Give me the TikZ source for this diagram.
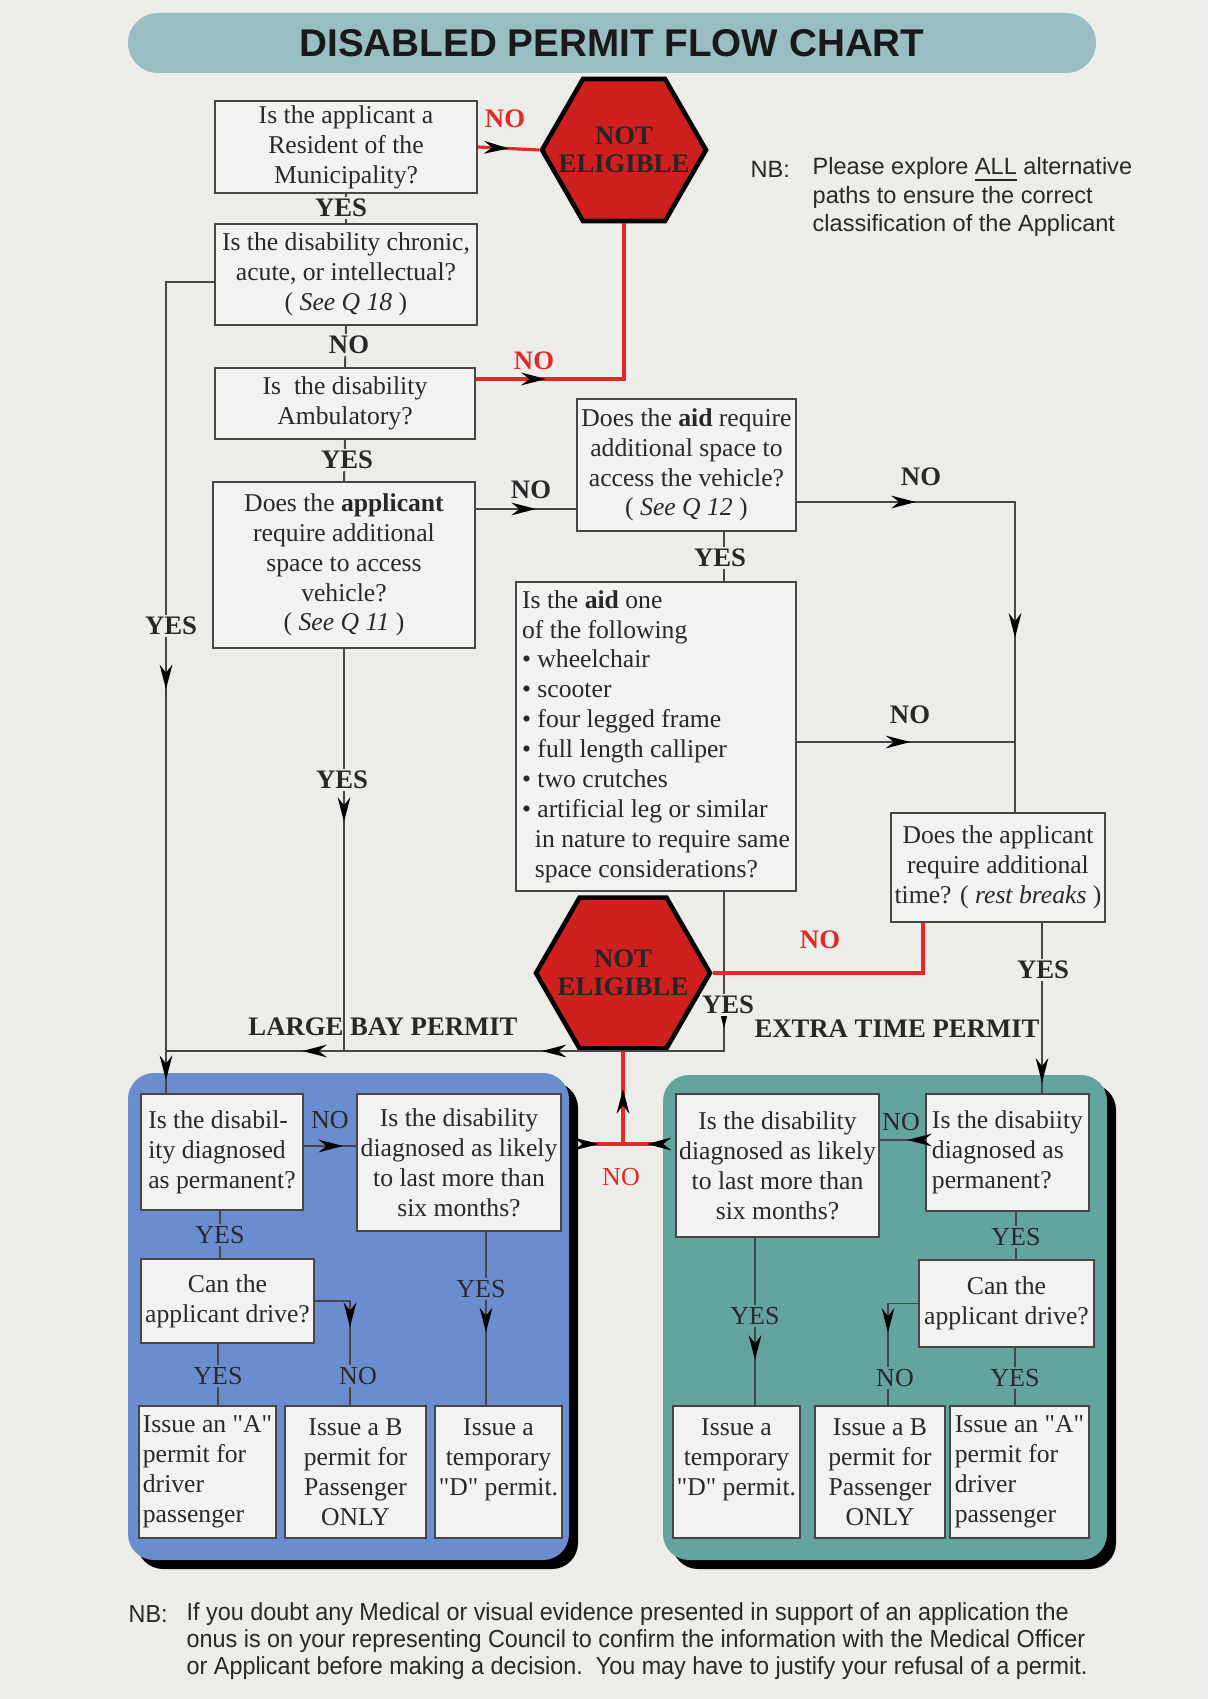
\documentclass[tikz,border=0pt]{standalone}
\usepackage{fontspec}
\setmainfont{Liberation Serif}
\newfontfamily\headfont{Liberation Sans}
\newfontfamily\notefont[FakeStretch=0.95]{Liberation Sans}
\usetikzlibrary{shapes.geometric,arrows.meta,decorations.markings,shadows}

\definecolor{paper}{RGB}{236,236,233}
\definecolor{bannerteal}{RGB}{152,190,194}
\definecolor{stopred}{RGB}{206,32,30}
\definecolor{flowred}{RGB}{228,40,40}
\definecolor{bayblue}{RGB}{108,140,208}
\definecolor{timegreen}{RGB}{100,164,158}
\definecolor{boxfill}{RGB}{242,242,240}
\definecolor{inkgray}{RGB}{40,40,40}
\definecolor{linegray}{RGB}{70,70,70}

\newcommand{\boxfont}{\fontsize{7.3}{8.5}\selectfont}
\newcommand{\tagfont}{\fontsize{7.6}{8}\selectfont\bfseries}
\newcommand{\intagfont}{\fontsize{7.4}{8}\selectfont}
\newcommand{\titlefont}{\headfont\bfseries\fontsize{11}{12}\selectfont}
\newcommand{\nbfont}{\headfont\fontsize{6.7}{8}\selectfont}
\newcommand{\footfont}{\notefont\fontsize{7}{7.7}\selectfont}
\newcommand{\dq}{\textquotedbl}

\begin{document}
\begin{tikzpicture}[x=0.1mm, y=-0.1mm,
    qbox/.style={draw=linegray, fill=boxfill, line width=0.6pt, inner sep=1pt,
                 align=center, font=\boxfont, text=inkgray},
    lbox/.style={qbox, align=left},
    stopsign/.style={regular polygon, regular polygon sides=6, draw=black,
                 line width=1.3pt, fill=stopred, inner sep=0pt},
    region/.style={rounded corners=2.6mm, inner sep=0pt,
                 drop shadow={shadow xshift=0.9mm, shadow yshift=-0.9mm, fill=black, opacity=1}},
    flow/.style={draw=linegray, line width=0.55pt},
    redflow/.style={draw=flowred, line width=0.9pt},
    midarrow/.style={postaction={decorate, decoration={markings,
                 mark=at position #1 with {\arrow{Stealth[length=7pt, width=3.6pt, color=black]}}}}},
    tag/.style={font=\tagfont, text=inkgray, fill=paper, inner sep=0.6pt},
    intag/.style={font=\intagfont, text=inkgray, inner sep=0.6pt},
    note/.style={anchor=west, inner sep=0pt, text=inkgray},
  ]
  \fill[paper] (0,0) rectangle (1208,1699);
  \useasboundingbox (0,0) rectangle (1208,1699);

  % title
  \node (banner) at (612,43) [fill=bannerteal, rounded corners=3mm, minimum width=96.8mm,
        minimum height=6mm, font=\titlefont, text=black!90] {DISABLED PERMIT FLOW CHART};

  % questions
  \node (res) at (346,147) [qbox, minimum width=26.2mm, minimum height=9.2mm]
        {Is the applicant a\\Resident of the\\Municipality?};
  \node (chr) at (346,274.5) [qbox, minimum width=26.2mm, minimum height=10.1mm]
        {Is the disability chronic,\\acute, or intellectual?\\( \textit{See Q 18} )};
  \node (amb) at (345,403.5) [qbox, minimum width=26mm, minimum height=7.1mm]
        {Is\ \ the disability\\Ambulatory?};
  \node (app) at (344,565) [qbox, minimum width=26.2mm, minimum height=16.6mm]
        {Does the \textbf{applicant}\\require additional\\space to access\\vehicle?\\( \textit{See Q 11} )};
  \node (aidA) at (686.5,465) [qbox, minimum width=21.9mm, minimum height=13.2mm]
        {Does the \textbf{aid} require\\additional space to\\access the vehicle?\\( \textit{See Q 12} )};
  \node (aidB) at (656,736.5) [lbox, minimum width=28mm, minimum height=30.9mm]
        {Is the \textbf{aid} one\\of the following\\\textbullet{} wheelchair\\\textbullet{} scooter\\
         \textbullet{} four legged frame\\\textbullet{} full length calliper\\\textbullet{} two crutches\\
         \textbullet{} artificial leg or similar\\\hspace*{0.5em}in nature to require same\\
         \hspace*{0.5em}space considerations?};
  \node (rest) at (998,867.5) [qbox, minimum width=21.4mm, minimum height=10.9mm]
        {Does the applicant\\require additional\\time? ( \textit{rest breaks} )};

  % not eligible
  \node (stopA) at (624,150) [stopsign, minimum size=16.4mm,
        label={[font=\tagfont, align=center, text=black!85]center:NOT\\ELIGIBLE}] {};
  \node (stopB) at (623,973) [stopsign, minimum size=17.4mm,
        label={[font=\tagfont, align=center, text=black!85]center:NOT\\ELIGIBLE}] {};

  % permit panels
  \node (bayR) at (348.5,1316.5) [region, fill=bayblue, minimum width=44.1mm, minimum height=48.7mm] {};
  \node (timeR) at (885,1317.5) [region, fill=timegreen, minimum width=44.4mm, minimum height=48.5mm] {};

  \node (bPerm) at (222,1152) [lbox, minimum width=16.2mm, minimum height=11.6mm]
        {Is the disabil-\\ity diagnosed\\as permanent?};
  \node (bSix) at (459,1162.5) [qbox, minimum width=20.2mm, minimum height=13.7mm]
        {Is the disability\\diagnosed as likely\\to last more than\\six months?};
  \node (bDrive) at (227.5,1301) [qbox, minimum width=17.3mm, minimum height=8.4mm]
        {Can the\\applicant drive?};
  \node (bA) at (207.5,1472) [lbox, minimum width=13.3mm, minimum height=13.2mm]
        {Issue an \dq A\dq\\permit for\\driver\\passenger};
  \node (bB) at (355.5,1472) [qbox, minimum width=14.1mm, minimum height=13.2mm]
        {Issue a B\\permit for\\Passenger\\ONLY};
  \node (bD) at (498.5,1472) [qbox, minimum width=12.1mm, minimum height=13.2mm]
        {Issue a\\temporary\\\dq D\dq{} permit.\\\mbox{}};

  \node (gSix) at (777.5,1165.5) [qbox, minimum width=20.1mm, minimum height=14.3mm]
        {Is the disability\\diagnosed as likely\\to last more than\\six months?};
  \node (gPerm) at (1007.5,1152.5) [lbox, minimum width=16.3mm, minimum height=11.7mm]
        {Is the disabiity\\diagnosed as\\permanent?};
  \node (gDrive) at (1006.5,1303.5) [qbox, minimum width=17.5mm, minimum height=8.7mm]
        {Can the\\applicant drive?};
  \node (gD) at (736.5,1472) [qbox, minimum width=11.9mm, minimum height=13.2mm]
        {Issue a\\temporary\\\dq D\dq{} permit.\\\mbox{}};
  \node (gB) at (880,1472) [qbox, minimum width=13mm, minimum height=13.2mm]
        {Issue a B\\permit for\\Passenger\\ONLY};
  \node (gA) at (1019.5,1472) [lbox, minimum width=13.9mm, minimum height=13.2mm]
        {Issue an \dq A\dq\\permit for\\driver\\passenger};

  % junctions
  \coordinate (leftTop) at (166,282);
  \coordinate (leftBot) at (166,1051);
  \coordinate (aidBot) at (724,1051);
  \coordinate (rightTop) at (1015,502);
  \coordinate (redJ) at (623,1144);

  % main column
  \draw[redflow, midarrow=0.5] (res.east) -- (stopA.west);
  \draw[flow] (res.south) -- (chr.north);
  \draw[flow] (chr.south) -- (amb.north);
  \draw[flow] (amb.south) -- (app.north);
  \draw[redflow, midarrow=0.23] ([yshift=2.45mm]amb.east) -| (stopA.south);
  \draw[flow, midarrow=0.6] (app.east |- 0,509) -- (aidA.west |- 0,509);
  \draw[flow, midarrow=0.53, midarrow=0.985] (chr.west |- leftTop) -- (leftTop) -- (bPerm.north -| leftTop);
  \draw[flow, midarrow=0.43] (app.south) -- (app.south |- leftBot);
  \draw[flow] (aidA.south -| aidBot) -- (aidB.north -| aidBot);
  \draw[flow, midarrow=0.19, midarrow=0.476, midarrow=0.81] (aidB.south -| aidBot) -- (aidBot) -- (leftBot);
  \draw[flow, midarrow=0.225, midarrow=0.67] (aidA.east |- rightTop) -- (rightTop) -- (rest.north -| rightTop);
  \draw[flow, midarrow=0.52] (aidB.east |- 0,742) -- (rightTop |- 0,742);
  \draw[redflow] (rest.south -| 923,0) |- (stopB.east);
  \draw[flow, midarrow=0.94] (rest.south -| 1042,0) -- (gPerm.north -| 1042,0);

  % back to not eligible
  \draw[redflow, midarrow=0.59] (redJ) -- (stopB.south);
  \draw[redflow, midarrow=0.35] ([xshift=1.6mm]bayR.east |- redJ) -- (redJ);
  \draw[redflow, midarrow=0.4] (timeR.west |- redJ) -- (redJ);

  % large bay panel
  \draw[flow, midarrow=0.75] (bPerm.east |- 0,1146) -- (bSix.west |- 0,1146);
  \draw[flow] (bPerm.south -| 220,0) -- (bDrive.north -| 220,0);
  \draw[flow, midarrow=0.44] (bDrive.east) -| (bB.north -| 350,0);
  \draw[flow] (bDrive.south -| 218,0) -- (bA.north -| 218,0);
  \draw[flow, midarrow=0.58] (bSix.south -| 486,0) -- (bD.north -| 486,0);

  % extra time panel
  \draw[flow, midarrow=0.4] (gPerm.west |- 0,1140) -- (gSix.east |- 0,1140);
  \draw[flow] (gPerm.south -| 1016,0) -- (gDrive.north -| 1016,0);
  \draw[flow, midarrow=0.45] (gDrive.west) -| (gB.north -| 888,0);
  \draw[flow] (gDrive.south -| 1015,0) -- (gA.north -| 1015,0);
  \draw[flow, midarrow=0.73] (gSix.south -| 755,0) -- (gD.north -| 755,0);

  % yes / no
  \foreach \nm/\x/\y/\t in {yA/341/208/YES, nA/349/345/NO, yB/347/460/YES,
      nB/531/490/NO, nC/921/477/NO, yC/720/558/YES, yD/171/626/YES,
      nD/910/715/NO, yE/342/780/YES, yF/1043/970/YES, yG/728/1005/YES}
    \node (\nm) at (\x,\y) [tag] {\t};
  \foreach \nm/\x/\y in {rA/505/119, rB/534/361, rC/820/940}
    \node (\nm) at (\x,\y) [tag, text=flowred] {NO};
  \node (rD) at (621,1177) [intag, text=flowred] {NO};
  \foreach \nm/\x/\y/\t in {bN/330/1120/NO, bY/220/1235/YES, bYb/481/1289/YES,
      bYc/218/1376/YES, bNb/358/1376/NO}
    \node (\nm) at (\x,\y) [intag, fill=bayblue] {\t};
  \foreach \nm/\x/\y/\t in {gN/901/1122/NO, gY/1016/1237/YES, gYb/755/1316/YES,
      gNb/895/1378/NO, gYc/1015/1378/YES}
    \node (\nm) at (\x,\y) [intag, fill=timegreen] {\t};

  \node (bayHead) at (383,1027) [font=\tagfont, text=inkgray] {LARGE BAY PERMIT};
  \node (timeHead) at (897,1029) [font=\tagfont, text=inkgray] {EXTRA TIME PERMIT};

  % notes
  \node (nbTop) at (750,169) [note, font=\nbfont] {NB:};
  \node (nbTopText) at (812,197) [note, align=left, font=\nbfont]
        {Please explore \underline{ALL} alternative\\paths to ensure the correct\\classification of the Applicant};
  \node (nbBot) at (128,1614) [note, font=\footfont] {NB:};
  \node (nbBotText) at (186,1641) [note, align=left, font=\footfont]
        {If you doubt any Medical or visual evidence presented in support of an application the\\
         onus is on your representing Council to confirm the information with the Medical Officer\\
         or Applicant before making a decision.\ \ You may have to justify your refusal of a permit.};
\end{tikzpicture}
\end{document}
